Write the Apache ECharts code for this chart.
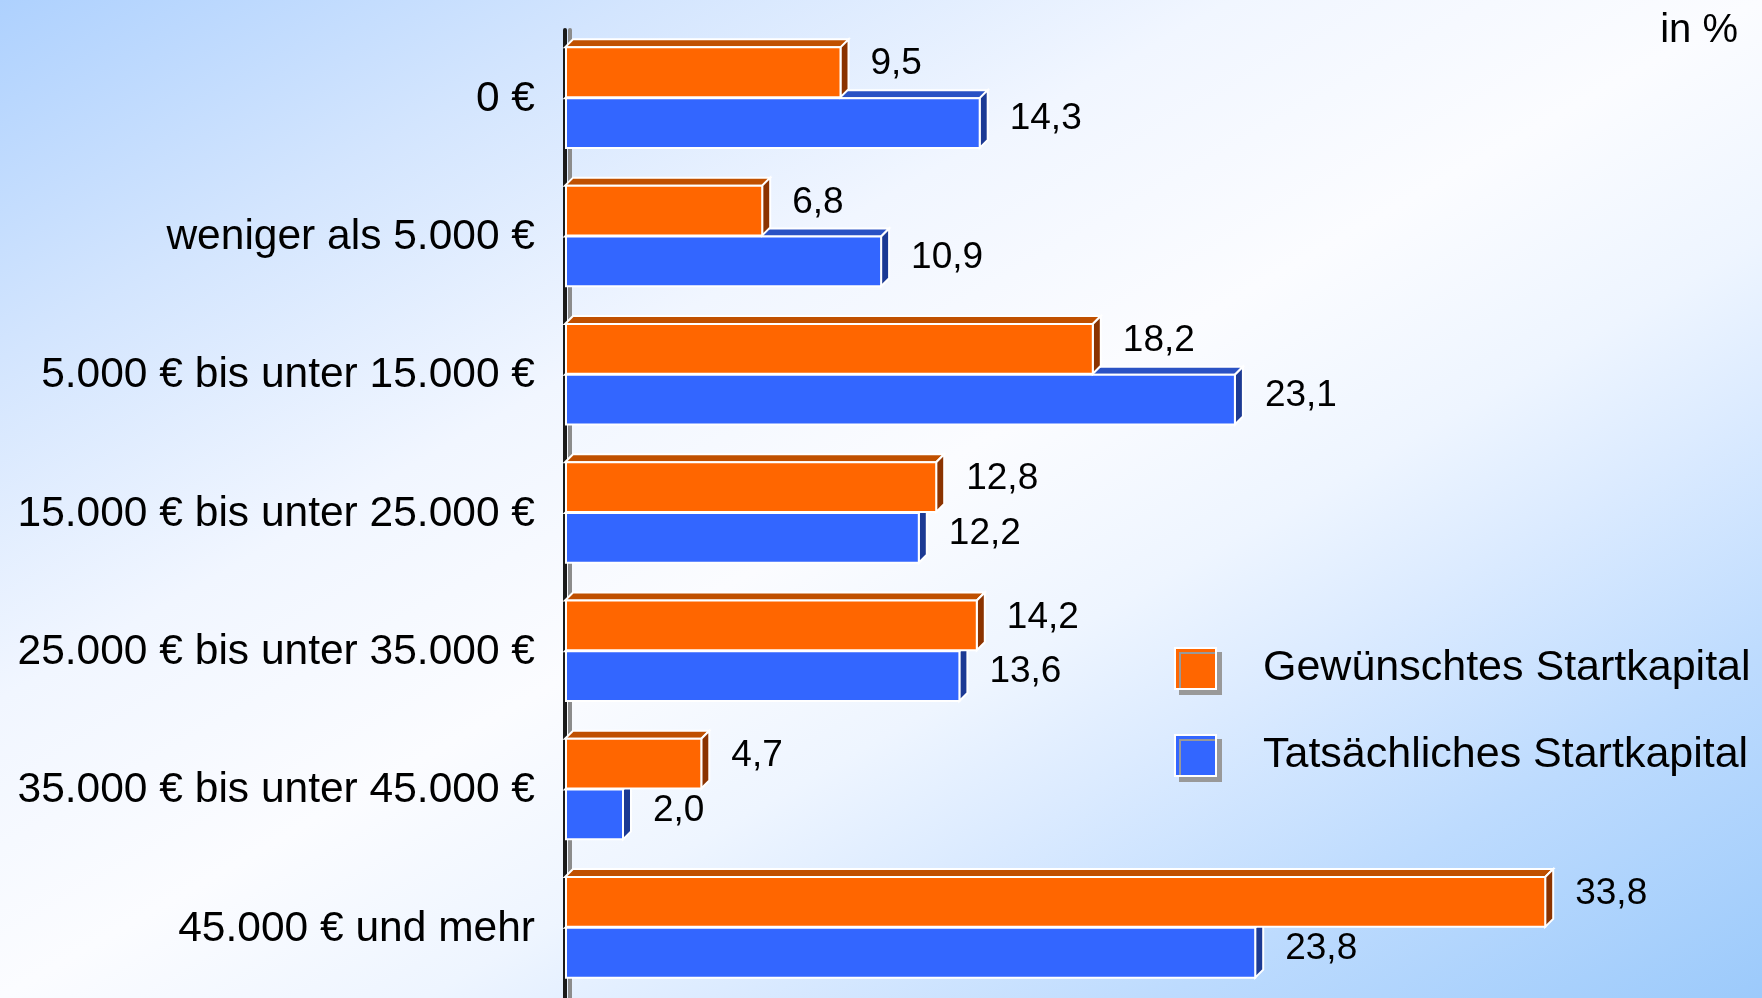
<!DOCTYPE html>
<html>
	<head>
		<meta charset="utf-8">
		<title>Startkapital</title>
		<script src="https://cdn.jsdelivr.net/npm/echarts@6.0.0/dist/echarts.min.js"></script>
		<style>
			body { margin: 0; overflow: hidden; }
			#main {
				width: 1762px; height: 998px;
				background: linear-gradient(to bottom right, #aed1fe 0%, #d3e5fe 18%, #f1f6ff 35%, #fbfcff 50%, #eef5ff 62%, #dcebff 70%, #bddbfe 83%, #9ccafb 100%);
			}
		</style>
	</head>
	<body>
		<div id="main"></div>
		<script type="text/javascript">
			var categories = ['0 €', 'weniger als 5.000 €', '5.000 € bis unter 15.000 €', '15.000 € bis unter 25.000 €',
				'25.000 € bis unter 35.000 €', '35.000 € bis unter 45.000 €', '45.000 € und mehr'];
			var gewuenscht = [9.5, 6.8, 18.2, 12.8, 14.2, 4.7, 33.8];
			var tatsaechlich = [14.3, 10.9, 23.1, 12.2, 13.6, 2.0, 23.8];

			var FONT = "'Liberation Sans', Arial, sans-serif";
			var DEPTH = 8;
			// Vorderseite, Oberseite, rechte Seite
			var palette = [
				{ front: '#ff6600', top: '#c05000', side: '#8b3300' },
				{ front: '#3366ff', top: '#2a52c4', side: '#1c3a94' }
			];

			function fmt(v) {
				return v.toFixed(1).replace('.', ',');
			}

			function toData(arr) {
				return arr.map(function (v, i) { return [v, i]; });
			}

			// 3D-Balken: Vorderseite + Oberseite + rechte Seite + Wert
			function renderBar3d(params, api) {
				var val = api.value(0);
				var cat = api.value(1);
				var p0 = api.coord([0, cat]);
				var p1 = api.coord([val, cat]);
				var band = api.size([0, 1])[1];
				var h = band * 0.36;
				var orange = params.seriesIndex === 0;
				var yTop = orange ? p0[1] - h - 2 : p0[1] - 1;
				var yBot = yTop + h;
				var x0 = p0[0], x1 = p1[0], d = DEPTH;
				var pal = palette[params.seriesIndex];
				return {
					type: 'group',
					children: [
						{
							type: 'polygon',
							shape: { points: [[x0, yTop], [x0 + d, yTop - d], [x1 + d, yTop - d], [x1, yTop]] },
							style: { fill: pal.top, stroke: '#fff', lineWidth: 2 }
						},
						{
							type: 'polygon',
							shape: { points: [[x1, yTop], [x1 + d, yTop - d], [x1 + d, yBot - d], [x1, yBot]] },
							style: { fill: pal.side, stroke: '#fff', lineWidth: 2 }
						},
						{
							type: 'rect',
							shape: { x: x0 + 1, y: yTop, width: x1 - x0 - 1, height: h },
							style: { fill: pal.front, stroke: '#fff', lineWidth: 2 }
						},
						{
							type: 'text',
							x: x1 + d + 22,
							y: yTop + h / 2 - (orange ? 8 : 4),
							style: {
								text: fmt(val), fontSize: 37, fontFamily: FONT, fill: '#000',
								align: 'left', verticalAlign: 'middle'
							}
						}
					]
				};
			}

			var myChart = echarts.init(document.getElementById('main'));

			var option = {
				backgroundColor: 'transparent',
				animation: false,
				title: {
					text: 'in %',
					right: 19,
					top: 6,
					textStyle: { fontSize: 40, fontWeight: 'normal', color: '#000', fontFamily: FONT }
				},
				legend: {
					orient: 'vertical',
					left: 1169,
					top: 642,
					itemWidth: 41,
					itemHeight: 41,
					itemGap: 44,
					data: [
						{ name: 'Gewünschtes Startkapital', icon: 'rect', itemStyle: { color: palette[0].front } },
						{ name: 'Tatsächliches Startkapital', icon: 'rect', itemStyle: { color: palette[1].front } }
					],
					itemStyle: {
						borderColor: '#fff',
						borderWidth: 2,
						shadowColor: '#999',
						shadowBlur: 0,
						shadowOffsetX: 5,
						shadowOffsetY: 5
					},
					textStyle: { fontSize: 43, color: '#000', fontFamily: FONT, padding: [6, 0, 0, 42] }
				},
				grid: {
					left: 565,
					width: 1160,
					top: 30,
					height: 973
				},
				xAxis: {
					type: 'value',
					min: 0,
					max: 40,
					show: false
				},
				yAxis: {
					type: 'category',
					inverse: true,
					data: categories,
					axisTick: { show: false },
					axisLine: {
						lineStyle: {
							color: '#1a1a1a',
							width: 4,
							shadowColor: '#8c8c8c',
							shadowBlur: 0,
							shadowOffsetX: 5
						}
					},
					axisLabel: {
						margin: 30,
						fontSize: 42.5,
						color: '#000',
						fontFamily: FONT,
						padding: [4, 0, 0, 0]
					}
				},
				series: [
					{
						name: 'Gewünschtes Startkapital',
						type: 'custom',
						z: 3,
						renderItem: renderBar3d,
						itemStyle: { color: palette[0].front },
						encode: { x: 0, y: 1 },
						data: toData(gewuenscht)
					},
					{
						name: 'Tatsächliches Startkapital',
						type: 'custom',
						z: 2,
						renderItem: renderBar3d,
						itemStyle: { color: palette[1].front },
						encode: { x: 0, y: 1 },
						data: toData(tatsaechlich)
					}
				]
			};
			myChart.setOption(option);
		</script>
	</body>
</html>
